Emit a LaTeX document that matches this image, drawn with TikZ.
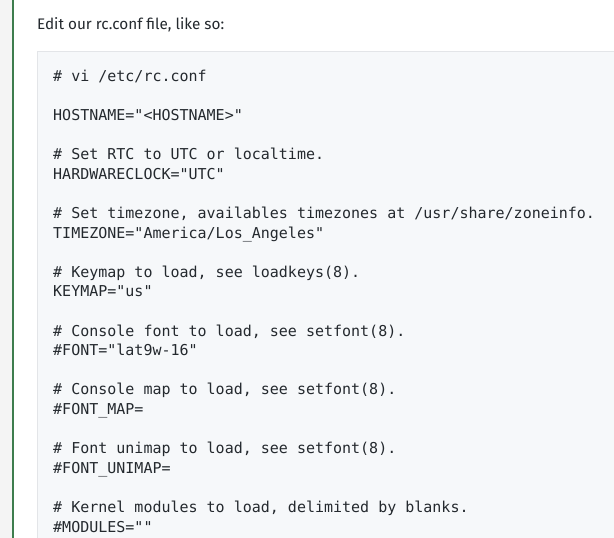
\documentclass[tikz,border=0pt]{standalone}
\usepackage{fontspec}
\setmainfont{Fira Sans}
\setmonofont{DejaVu Sans Mono}
\usepackage{tikz}

\definecolor{pagegray}{HTML}{F4F4F4}
\definecolor{barfill}{HTML}{3E7D4E}
\definecolor{codebg}{HTML}{F6F8FA}
\definecolor{codeedge}{HTML}{E3E5E8}
\definecolor{codeink}{HTML}{24292E}

\tikzset{
  codeline/.style={anchor=base west,inner sep=0pt,text=codeink,
    font=\ttfamily\fontsize{15pt}{19.6pt}\selectfont},
  leadtext/.style={anchor=base west,inner sep=0pt,text=codeink,
    font=\fontsize{15.3pt}{19pt}\selectfont}
}

\begin{document}
\begin{tikzpicture}[x=1pt,y=-1pt]
			\useasboundingbox (0,0) rectangle (614,538);
			\fill[white] (0,0) rectangle (614,538);
			\fill[pagegray] (0,0) rectangle (12,538);
			\fill[barfill] (12,0) rectangle (13.5,538);

			\node[leadtext] (lead) at (37,29) {Edit our rc.conf file, like so:};

			% code block
			\filldraw[fill=codebg,draw=codeedge,line width=1pt] (37.5,51.5) rectangle (640,560);

			\node[codeline] (l0) at (53,81.3) {\# vi /etc/rc.conf};
			\node[codeline] (l2) at (53,120.5) {HOSTNAME="<HOSTNAME>"};

			\node[codeline] (l4) at (53,159.7) {\# Set RTC to UTC or localtime.};
			\node[codeline] (l5) at (53,179.3) {HARDWARECLOCK="UTC"};

			\node[codeline] (l7) at (53,218.5) {\# Set timezone, availables timezones at /usr/share/zoneinfo.};
			\node[codeline] (l8) at (53,238.1) {TIMEZONE="America/Los\_Angeles"};

			\node[codeline] (l10) at (53,277.3) {\# Keymap to load, see loadkeys(8).};
			\node[codeline] (l11) at (53,296.9) {KEYMAP="us"};

			\node[codeline] (l13) at (53,336.1) {\# Console font to load, see setfont(8).};
			\node[codeline] (l14) at (53,355.7) {\#FONT="lat9w-16"};

			\node[codeline] (l16) at (53,394.9) {\# Console map to load, see setfont(8).};
			\node[codeline] (l17) at (53,414.5) {\#FONT\_MAP=};

			\node[codeline] (l19) at (53,453.7) {\# Font unimap to load, see setfont(8).};
			\node[codeline] (l20) at (53,473.3) {\#FONT\_UNIMAP=};

			\node[codeline] (l22) at (53,512.5) {\# Kernel modules to load, delimited by blanks.};
			\node[codeline] (l23) at (53,532.1) {\#MODULES=""};
		\end{tikzpicture}
\end{document}
